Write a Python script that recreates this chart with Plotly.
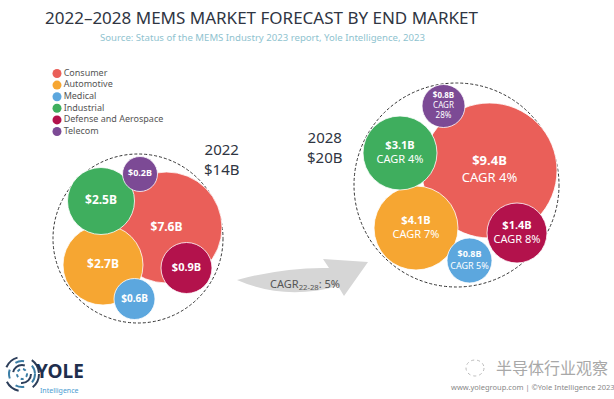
import plotly.graph_objects as go

# ---------------- data ----------------
categories = ["Consumer", "Automotive", "Medical", "Industrial", "Defense and Aerospace", "Telecom"]
values_2022 = [7.6, 2.7, 0.6, 2.5, 0.9, 0.2]          # $B
values_2028 = [9.4, 4.1, 0.8, 3.1, 1.4, 0.8]          # $B
cagr_22_28 = [4, 7, 5, 4, 8, 28]                      # %
years = ["2022", "2028"]
totals = [14, 20]                                     # $B
total_cagr = 5                                        # %

# ---------------- styles / layout (bubble packing, pixels) ----------------
colors = ["#EA5F59", "#F6A632", "#5CA7DE", "#3FAE5E", "#B3124C", "#7C4A95"]
pos_2022_x = [166.5, 103, 134.5, 101, 186.5, 140]
pos_2022_y = [227.5, 265, 299, 201, 268, 174]
diam_2022 = [111, 80, 41, 67, 51, 35]
pos_2028_x = [489.5, 416, 469.5, 400, 517, 443.5]
pos_2028_y = [170.5, 228, 260.5, 153, 233, 106]
diam_2028 = [135, 84, 45, 74, 60, 43]
txt_2022 = [12, 12, 10, 12, 11, 9]
txt_2028 = [13, 11, 9, 11, 11, 8]
cagr_break = [False, False, False, False, False, True]
FONT = "Noto Sans"
DARK = "#2f3542"

fig = go.Figure()

for i, cat in enumerate(categories):
    lab22 = f"<b>${values_2022[i]}B</b>"
    sep = "<br>CAGR<br>" if cagr_break[i] else "<br>CAGR "
    lab28 = f"<b>${values_2028[i]}B</b>{sep}{cagr_22_28[i]}%"
    fig.add_trace(go.Scatter(
        x=[pos_2022_x[i], pos_2028_x[i]],
        y=[pos_2022_y[i], pos_2028_y[i]],
        mode="markers+text",
        name=cat,
        marker=dict(size=[diam_2022[i], diam_2028[i]], color=colors[i],
                    opacity=1, line=dict(width=0.8, color="white")),
        text=[lab22, lab28],
        textposition="middle center",
        textfont=dict(family=FONT, color="white", size=[txt_2022[i], txt_2028[i]]),
        hoverinfo="skip",
        showlegend=False,
    ))

# manual legend
leg_y = [73.5 + 11.6 * i for i in range(len(categories))]
fig.add_trace(go.Scatter(
    x=[57] * len(categories), y=leg_y, mode="markers+text",
    marker=dict(size=9, color=colors),
    text=categories, textposition="middle right",
    textfont=dict(family=FONT, size=9, color="#555555"),
    hoverinfo="skip", showlegend=False,
))

shapes = [
    # dashed outline circles around each year's market
    dict(type="circle", xref="x", yref="y", x0=53, x1=223, y0=154, y1=323,
         line=dict(color="#333333", width=1, dash="3px,2px"), layer="below"),
    dict(type="circle", xref="x", yref="y", x0=354, x1=559, y0=83, y1=287,
         line=dict(color="#333333", width=1, dash="3px,2px"), layer="below"),
    # growth arrow
    dict(type="path", xref="x", yref="y",
         path="M 237 280 Q 285 267 329 268 L 323 259 L 368 262 L 344 296 L 338 286 Q 285 301 237 280 Z",
         fillcolor="#d6d6d6", line=dict(width=0), layer="below"),
]
# logo rings
for r, dash, col in [(17, "longdash", "#2c3e5a"), (13, "dash", "#3b7ea6"), (9, "longdash", "#2c3e5a"), (5, "dot", "#3b7ea6")]:
    shapes.append(dict(type="circle", xref="x", yref="y", x0=22 - r, x1=22 + r, y0=374 - r, y1=374 + r,
                       line=dict(color=col, width=2, dash=dash)))
# watermark icon
shapes.append(dict(type="circle", xref="x", yref="y", x0=466, x1=484, y0=360, y1=376,
                   line=dict(color="#bbbbbb", width=1, dash="dot")))

ann = []
ann.append(dict(x=262, y=17, text="2022–2028 MEMS MARKET FORECAST BY END MARKET",
                font=dict(family=FONT, size=17, color=DARK)))
ann.append(dict(x=262, y=37, text="Source: Status of the MEMS Industry 2023 report, Yole Intelligence, 2023",
                font=dict(family=FONT, size=9.6, color="#8fc3cf")))
for yr, tot, x, y in [(years[0], totals[0], 222, 159), (years[1], totals[1], 325, 147)]:
    ann.append(dict(x=x, y=y, text=f"{yr}<br>${tot}B",
                    font=dict(family=FONT, size=15, color=DARK)))
ann.append(dict(x=305, y=284, text=f"CAGR<sub>22-28</sub>: {total_cagr}%",
                font=dict(family=FONT, size=11, color="#555555")))
ann.append(dict(x=60, y=371, text="<b>YOLE</b>", font=dict(family=FONT, size=19, color="#1f2f4d")))
ann.append(dict(x=59, y=390, text="Intelligence", font=dict(family=FONT, size=7, color="#4a9bd1")))
ann.append(dict(x=552, y=367, text="半导体行业观察", font=dict(family="Noto Sans CJK SC", size=16, color="#a8a8a8")))
ann.append(dict(x=533, y=387, text="www.yolegroup.com | ©Yole Intelligence 2023",
                font=dict(family=FONT, size=7.5, color="#888888")))
for a in ann:
    a.update(xref="x", yref="y", showarrow=False, xanchor="center", yanchor="middle")

fig.update_layout(
    width=614, height=399,
    margin=dict(l=0, r=0, t=0, b=0),
    paper_bgcolor="white", plot_bgcolor="white",
    xaxis=dict(range=[0, 614], visible=False, fixedrange=True),
    yaxis=dict(range=[399, 0], visible=False, fixedrange=True),
    shapes=shapes, annotations=ann, showlegend=False,
)

fig.write_html("out.html", config={"displayModeBar": False},
               post_script="document.body.style.margin='0px';")
